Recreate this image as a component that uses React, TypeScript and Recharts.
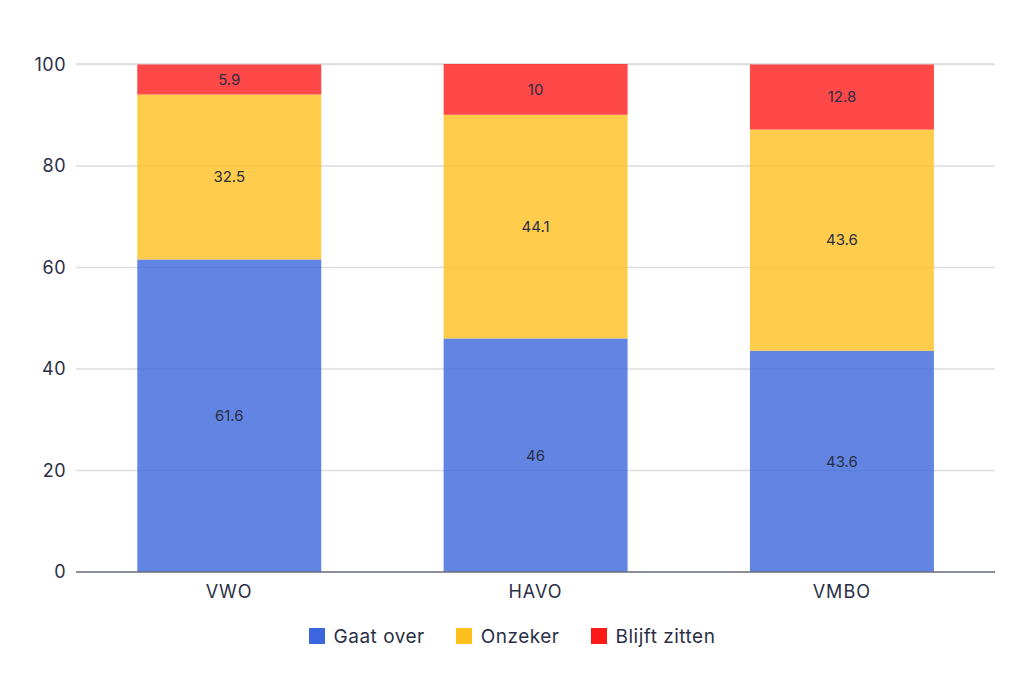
import React from 'react';
import { BarChart, Bar, XAxis, YAxis, CartesianGrid, Legend, LabelList } from 'recharts';

const categories = ['VWO', 'HAVO', 'VMBO'];
const gaatOver = [61.6, 46, 43.6];
const onzeker = [32.5, 44.1, 43.6];
const blijftZitten = [5.9, 10, 12.8];
const yTicks = [0, 20, 40, 60, 80, 100];

const series = [
  { key: 'gaatOver', name: 'Gaat over', color: '#3b66dd' },
  { key: 'onzeker', name: 'Onzeker', color: '#ffbf1e' },
  { key: 'blijftZitten', name: 'Blijft zitten', color: '#ff1a1a' },
];

const data = categories.map((c, i) => ({
  name: c,
  gaatOver: gaatOver[i],
  onzeker: onzeker[i],
  blijftZitten: blijftZitten[i],
}));

const FONT = 'Inter, "Noto Sans", sans-serif';
const TEXT = '#2a2f45';

const LegendContent = () => (
  <div style={{ display: 'flex', justifyContent: 'center', alignItems: 'center', fontFamily: FONT, fontSize: 19, letterSpacing: 0.5, color: TEXT, height: 30 }}>
    {series.map((s, i) => (
      <div key={s.key} style={{ display: 'flex', alignItems: 'center', marginRight: i < series.length - 1 ? 31 : 0 }}>
        <span style={{ display: 'inline-block', width: 16, height: 16, background: s.color, marginRight: 9 }} />
        <span>{s.name}</span>
      </div>
    ))}
  </div>
);

export default function App() {
  return (
    <div style={{ width: 1008, height: 667 }}>
      <BarChart width={1008} height={667} data={data} margin={{ top: 56, right: 21, left: 0, bottom: 24 }} barCategoryGap="20%">
        <CartesianGrid vertical={false} stroke="#dddddd" strokeWidth={1.5} />
        <XAxis
          dataKey="name"
          height={49}
          tickLine={false}
          tickSize={0}
          tickMargin={13}
          axisLine={{ stroke: '#6e7080', strokeWidth: 1.5 }}
          tick={{ fill: TEXT, fontSize: 18, fontFamily: FONT, letterSpacing: 1 }}
        />
        <YAxis
          width={68}
          domain={[0, 100]}
          ticks={yTicks}
          axisLine={false}
          tickLine={false}
          tickSize={0}
          tickMargin={10}
          tick={{ fill: TEXT, fontSize: 18, fontFamily: FONT, letterSpacing: 0.5 }}
        />
        <Legend verticalAlign="bottom" height={30} content={<LegendContent />} wrapperStyle={{ left: 0, width: 1008 }} />
        {series.map((s) => (
          <Bar key={s.key} dataKey={s.key} name={s.name} stackId="a" fill={s.color} fillOpacity={0.8} isAnimationActive={false}>
            <LabelList dataKey={s.key} position="center" fill={TEXT} fontSize={15} fontFamily={FONT} />
          </Bar>
        ))}
      </BarChart>
    </div>
  );
}
